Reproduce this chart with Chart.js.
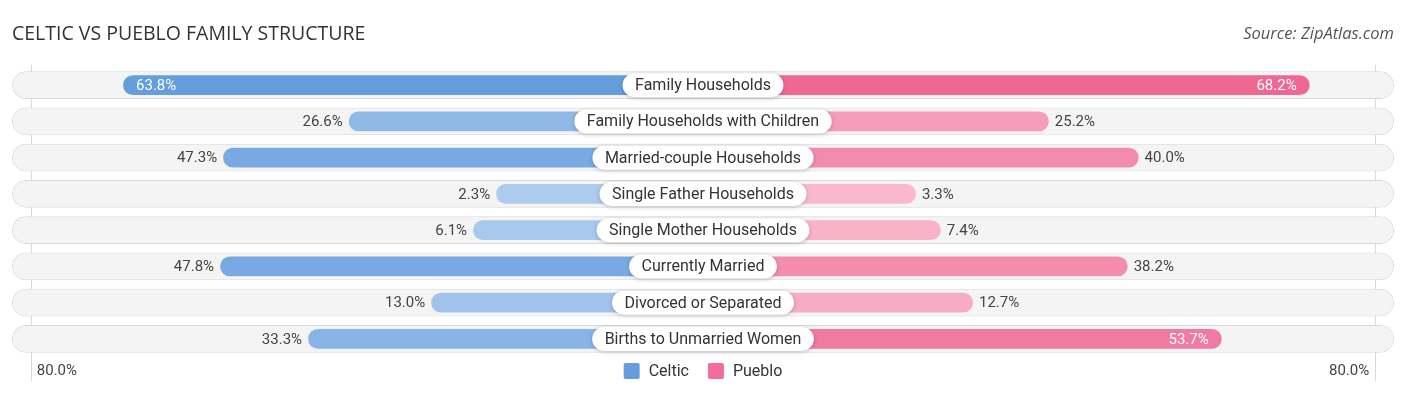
<!DOCTYPE html>
<html>
<head>
<meta charset="utf-8">
<script src="https://cdn.jsdelivr.net/npm/chart.js@4"></script>
<style>
  body { margin: 0; background: #fff; }
  #wrap { width: 1406px; height: 395px; position: relative; }
</style>
</head>
<body>
<div id="wrap"><canvas id="myChart"></canvas></div>
<script>
const categories = [
  'Family Households',
  'Family Households with Children',
  'Married-couple Households',
  'Single Father Households',
  'Single Mother Households',
  'Currently Married',
  'Divorced or Separated',
  'Births to Unmarried Women'
];
const celtic = [63.8, 26.6, 47.3, 2.3, 6.1, 47.8, 13.0, 33.3];
const pueblo = [68.2, 25.2, 40.0, 3.3, 7.4, 38.2, 12.7, 53.7];
const axisMaxLabel = '80.0%';
const seriesNames = ['Celtic', 'Pueblo'];

// bars start under the centre label, so every bar gets a fixed extra length
const OFF = 31.8;
const XMAX = 113.9;

function mix(a, b, t) {
  const r = Math.round(a[0] + (b[0] - a[0]) * t);
  const g = Math.round(a[1] + (b[1] - a[1]) * t);
  const bl = Math.round(a[2] + (b[2] - a[2]) * t);
  return 'rgb(' + r + ',' + g + ',' + bl + ')';
}
const blueLight = [176, 205, 239], blueDark = [88, 148, 218];
const pinkLight = [249, 188, 208], pinkDark = [238, 96, 142];

window.addEventListener('load', function () {
  const labelsPlugin = {
    id: 'labels',
    beforeDatasetsDraw(chart) {
      const ctx = chart.ctx;
      const x = chart.scales.x;
      const area = chart.chartArea;
      ctx.save();
      ctx.strokeStyle = '#d8d8d8';
      ctx.lineWidth = 1;
      [-(79 + OFF), 79 + OFF].forEach(function (v) {
        const px = Math.round(x.getPixelForValue(v)) + 0.5;
        ctx.beginPath();
        ctx.moveTo(px, area.top - 2);
        ctx.lineTo(px, area.bottom + 24);
        ctx.stroke();
      });
      ctx.restore();
    },
    afterDatasetsDraw(chart) {
      const ctx = chart.ctx;
      const x = chart.scales.x;
      const y = chart.scales.y;
      const cx = x.getPixelForValue(0);
      ctx.save();
      ctx.textBaseline = 'middle';
      categories.forEach(function (cat, i) {
        const cy = y.getPixelForValue(i);
        // value labels
        ctx.font = '15px Roboto';
        const lx = x.getPixelForValue(-(celtic[i] + OFF));
        if (celtic[i] >= 50) {
          ctx.fillStyle = '#fff';
          ctx.textAlign = 'left';
          ctx.fillText(celtic[i].toFixed(1) + '%', lx + 13, cy + 1);
        } else {
          ctx.fillStyle = '#444';
          ctx.textAlign = 'right';
          ctx.fillText(celtic[i].toFixed(1) + '%', lx - 6, cy + 1);
        }
        const rx = x.getPixelForValue(pueblo[i] + OFF);
        if (pueblo[i] >= 50) {
          ctx.fillStyle = '#fff';
          ctx.textAlign = 'right';
          ctx.fillText(pueblo[i].toFixed(1) + '%', rx - 13, cy + 1);
        } else {
          ctx.fillStyle = '#444';
          ctx.textAlign = 'left';
          ctx.fillText(pueblo[i].toFixed(1) + '%', rx + 6, cy + 1);
        }
        // centre pill
        ctx.font = '16px Roboto';
        const w = ctx.measureText(cat).width + 25;
        const h = 24;
        ctx.save();
        ctx.shadowColor = 'rgba(0,0,0,0.22)';
        ctx.shadowBlur = 4;
        ctx.shadowOffsetY = 1;
        ctx.fillStyle = '#fff';
        ctx.beginPath();
        ctx.roundRect(cx - w / 2, cy - h / 2, w, h, 12);
        ctx.fill();
        ctx.restore();
        ctx.fillStyle = '#333';
        ctx.textAlign = 'center';
        ctx.fillText(cat, cx, cy + 1);
      });

      // title and source
      ctx.textAlign = 'left';
      ctx.fillStyle = '#333';
      ctx.font = '19.5px "Open Sans"';
      ctx.fillText('CELTIC VS PUEBLO FAMILY STRUCTURE', 12, 34);
      ctx.textAlign = 'right';
      ctx.fillStyle = '#555';
      ctx.font = 'italic 16.5px "Open Sans"';
      ctx.fillText('Source: ZipAtlas.com', 1394, 34);

      // axis end labels
      const by = chart.chartArea.bottom + 14;
      ctx.font = '15px Roboto';
      ctx.fillStyle = '#444';
      ctx.textAlign = 'left';
      ctx.fillText(axisMaxLabel, x.getPixelForValue(-(79 + OFF)) + 6, by);
      ctx.textAlign = 'right';
      ctx.fillText(axisMaxLabel, x.getPixelForValue(79 + OFF) - 6, by);

      // legend
      ctx.font = '16px Roboto';
      const cols = [mix(blueLight, blueDark, 0.85), mix(pinkLight, pinkDark, 0.85)];
      const widths = seriesNames.map(function (n) { return 16 + 9 + ctx.measureText(n).width; });
      const gap = 19;
      let lx0 = cx - (widths[0] + widths[1] + gap) / 2;
      seriesNames.forEach(function (n, k) {
        ctx.fillStyle = cols[k];
        ctx.beginPath();
        ctx.roundRect(lx0, by - 8, 16, 16, 2);
        ctx.fill();
        ctx.fillStyle = '#333';
        ctx.textAlign = 'left';
        ctx.fillText(n, lx0 + 25, by + 1);
        lx0 += widths[k] + gap;
      });
      ctx.restore();
    }
  };

  const data = {
    labels: categories,
    datasets: [
      {
        label: seriesNames[0],
        data: celtic.map(function (v) { return [-(v + OFF), 0]; }),
        backgroundColor: celtic.map(function (v) { return mix(blueLight, blueDark, Math.min(v / 75, 1)); }),
        borderRadius: 10,
        borderSkipped: false,
        barPercentage: 0.55,
        categoryPercentage: 1,
        grouped: false,
        order: 1
      },
      {
        label: seriesNames[1],
        data: pueblo.map(function (v) { return [0, v + OFF]; }),
        backgroundColor: pueblo.map(function (v) { return mix(pinkLight, pinkDark, Math.min(v / 75, 1)); }),
        borderRadius: 10,
        borderSkipped: false,
        barPercentage: 0.55,
        categoryPercentage: 1,
        grouped: false,
        order: 1
      },
      {
        label: 'track',
        data: categories.map(function () { return [-XMAX, XMAX]; }),
        backgroundColor: '#f4f4f4',
        borderColor: '#d9d9d9',
        borderWidth: 1,
        borderRadius: 14,
        borderSkipped: false,
        barPercentage: 0.77,
        categoryPercentage: 1,
        grouped: false,
        order: 5
      }
    ]
  };

  const config = {
    type: 'bar',
    data: data,
    options: {
      indexAxis: 'y',
      responsive: true,
      maintainAspectRatio: false,
      animation: false,
      layout: { padding: { top: 67, bottom: 38, left: 12, right: 12 } },
      scales: {
        x: { min: -XMAX, max: XMAX, display: false },
        y: { display: false, offset: true }
      },
      plugins: {
        legend: { display: false },
        title: { display: false },
        tooltip: { enabled: false }
      }
    },
    plugins: [labelsPlugin]
  };

  new Chart(document.getElementById('myChart'), config);
});
</script>
</body>
</html>
